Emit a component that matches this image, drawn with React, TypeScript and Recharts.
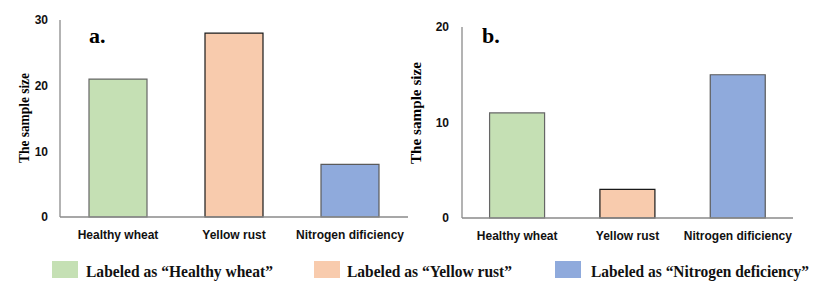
import React from 'react';
import { BarChart, Bar, XAxis, YAxis, Cell } from 'recharts';

const categories = ['Healthy wheat', 'Yellow rust', 'Nitrogen dificiency'];
const valuesA = [21, 28, 8];
const valuesB = [11, 3, 15];
const ticksA = [0, 10, 20, 30];
const ticksB = [0, 10, 20];
const barColors = ['#C5E0B4', '#F8CBAD', '#8FAADC'];
const barStrokes = ['#666666', '#1a1a1a', '#5a5a5a'];
const legendLabels = [
  'Labeled as \u201CHealthy wheat\u201D',
  'Labeled as \u201CYellow rust\u201D',
  'Labeled as \u201CNitrogen deficiency\u201D',
];
const panelLabels = ['a.', 'b.'];
const yTitle = 'The sample size';

const AXIS_COLOR = '#8a8a8a';
const SANS = '"Liberation Sans", Arial, sans-serif';
const SERIF = '"Liberation Serif", "Times New Roman", serif';

type PanelProps = {
  values: number[];
  ticks: number[];
  left: number;
  margin: { top: number; right: number; bottom: number; left: number };
  yWidth: number;
  yTickMargin: number;
};

function Panel({ values, ticks, left, margin, yWidth, yTickMargin }: PanelProps) {
  const data = categories.map((c, i) => ({ name: c, value: values[i] }));
  const max = ticks[ticks.length - 1];
  return (
    <div style={{ position: 'absolute', left, top: 0 }}>
      <BarChart width={415} height={297} data={data} margin={margin} barCategoryGap="25%">
        <XAxis
          dataKey="name"
          interval={0}
          axisLine={{ stroke: AXIS_COLOR, strokeWidth: 1.3 }}
          tickLine={false}
          tickMargin={7}
          tick={{ fill: '#111', fontSize: 12, fontWeight: 700, fontFamily: SANS }}
        />
        <YAxis
          domain={[0, max]}
          ticks={ticks}
          width={yWidth}
          interval={0}
          axisLine={{ stroke: AXIS_COLOR, strokeWidth: 1.3 }}
          tickLine={false}
          tickMargin={yTickMargin}
          tick={{ fill: '#111', fontSize: 12, fontWeight: 700, fontFamily: SANS }}
        />
        <Bar dataKey="value" isAnimationActive={false}>
          {data.map((d, i) => (
            <Cell key={d.name} fill={barColors[i]} stroke={barStrokes[i]} strokeWidth={1.2} />
          ))}
        </Bar>
      </BarChart>
    </div>
  );
}

function Overlay() {
  const legendSquareX = [52, 314, 555];
  const legendTextX = [86, 347, 591];
  const legendTextW = [187, 165, 218];
  return (
    <svg
      width={830}
      height={297}
      style={{ position: 'absolute', left: 0, top: 0, pointerEvents: 'none' }}
    >
      <text x={89} y={43} fontFamily={SERIF} fontWeight={700} fontSize={22} fill="#000">
        {panelLabels[0]}
      </text>
      <text x={482} y={43} fontFamily={SERIF} fontWeight={700} fontSize={22} fill="#000">
        {panelLabels[1]}
      </text>
      <text
        x={24}
        y={118}
        transform="rotate(-90 24 118)"
        textAnchor="middle"
        dominantBaseline="central"
        fontFamily={SERIF}
        fontWeight={700}
        fontSize={14}
        textLength={90}
        lengthAdjust="spacingAndGlyphs"
        fill="#000"
      >
        {yTitle}
      </text>
      <text
        x={416}
        y={113}
        transform="rotate(-90 416 113)"
        textAnchor="middle"
        dominantBaseline="central"
        fontFamily={SERIF}
        fontWeight={700}
        fontSize={14}
        textLength={102}
        lengthAdjust="spacingAndGlyphs"
        fill="#000"
      >
        {yTitle}
      </text>
      {legendLabels.map((lab, i) => (
        <g key={lab}>
          <rect x={legendSquareX[i]} y={261} width={26} height={17} fill={barColors[i]} />
          <text
            x={legendTextX[i]}
            y={277}
            fontFamily={SERIF}
            fontWeight={700}
            fontSize={17}
            textLength={legendTextW[i]}
            lengthAdjust="spacingAndGlyphs"
            fill="#111"
          >
            {lab}
          </text>
        </g>
      ))}
    </svg>
  );
}

export default function App() {
  return (
    <div
      style={{
        position: 'absolute',
        left: 0,
        top: 0,
        width: 830,
        height: 297,
        background: '#fff',
        overflow: 'hidden',
      }}
    >
      <Panel
        values={valuesA}
        ticks={ticksA}
        left={0}
        margin={{ top: 20, right: 7, bottom: 50, left: 0 }}
        yWidth={60}
        yTickMargin={6}
      />
      <Panel
        values={valuesB}
        ticks={ticksB}
        left={415}
        margin={{ top: 27, right: 37, bottom: 49, left: 0 }}
        yWidth={47}
        yTickMargin={7}
      />
      <Overlay />
    </div>
  );
}
